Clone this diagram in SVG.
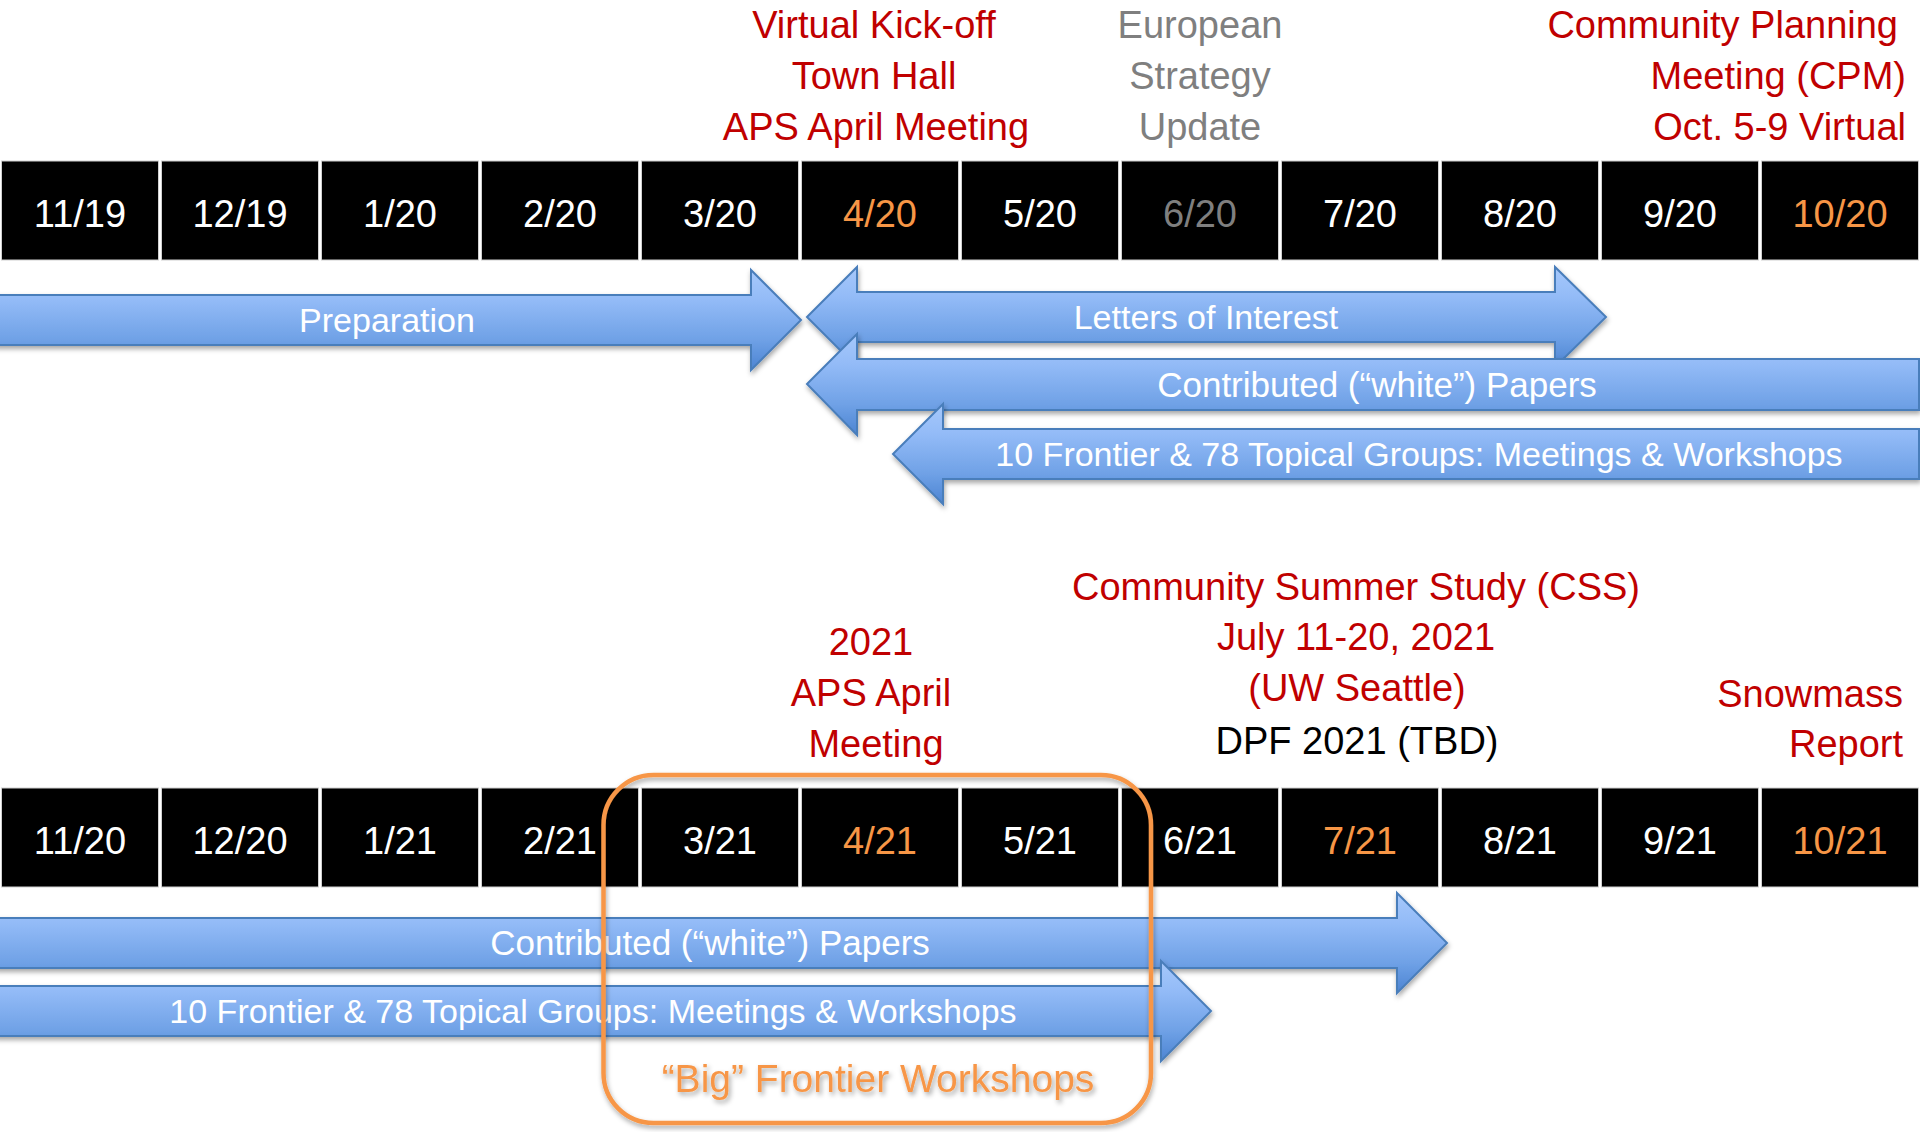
<svg xmlns="http://www.w3.org/2000/svg" width="1920" height="1132" viewBox="0 0 1920 1132">
<defs>
<linearGradient id="bg" x1="0" y1="0" x2="0" y2="1">
<stop offset="0" stop-color="#A6C8FB"/>
<stop offset="0.3" stop-color="#93BBF7"/>
<stop offset="0.7" stop-color="#6FA1E6"/>
<stop offset="1" stop-color="#4C84D2"/>
</linearGradient>
<filter id="sh" x="-5%" y="-20%" width="110%" height="150%">
<feDropShadow dx="1" dy="3" stdDeviation="2.5" flood-color="#000" flood-opacity="0.35"/>
</filter>
<filter id="tsh" x="-10%" y="-30%" width="120%" height="170%">
<feDropShadow dx="2" dy="3" stdDeviation="2.5" flood-color="#000" flood-opacity="0.35"/>
</filter>
</defs>
<style>
text{font-family:"Liberation Sans",Arial,sans-serif;}
.cell rect{fill:#000;stroke:#cfcfcf;stroke-width:1;}
.cell text{font-size:38px;fill:#fff;text-anchor:middle;}
.cell text.o{fill:#F79646;}
.cell text.g{fill:#7F7F7F;}
.hd{font-size:38px;fill:#C00000;text-anchor:middle;}
.gr{fill:#7F7F7F;}
.bk{fill:#000;}
.end{text-anchor:end;}
.arr path{fill:url(#bg);stroke:#4A7EBB;stroke-width:2;stroke-linejoin:miter;filter:url(#sh);}
.arr text{font-size:34px;fill:#fff;text-anchor:middle;}
.arr text.w{font-size:35px;}
</style>
<rect width="1920" height="1132" fill="#fff"/>

<!-- Top header labels -->
<g id="label-kickoff">
<text class="hd" x="874" y="38">Virtual Kick-off</text>
<text class="hd" x="874" y="89">Town Hall</text>
<text class="hd" x="876" y="140">APS April Meeting</text>
</g>
<g id="label-european">
<text class="hd gr" x="1200" y="38">European</text>
<text class="hd gr" x="1200" y="89">Strategy</text>
<text class="hd gr" x="1200" y="140">Update</text>
</g>
<g id="label-cpm">
<text class="hd end" x="1898" y="38">Community Planning</text>
<text class="hd end" x="1906" y="89">Meeting (CPM)</text>
<text class="hd end" x="1906" y="140">Oct. 5-9 Virtual</text>
</g>

<!-- Top timeline row -->
<g id="row-2020">
<g id="c-11-19" class="cell"><rect x="1.5" y="161" width="157" height="99"/><text x="80" y="227">11/19</text></g>
<g id="c-12-19" class="cell"><rect x="161.5" y="161" width="157" height="99"/><text x="240" y="227">12/19</text></g>
<g id="c-1-20" class="cell"><rect x="321.5" y="161" width="157" height="99"/><text x="400" y="227">1/20</text></g>
<g id="c-2-20" class="cell"><rect x="481.5" y="161" width="157" height="99"/><text x="560" y="227">2/20</text></g>
<g id="c-3-20" class="cell"><rect x="641.5" y="161" width="157" height="99"/><text x="720" y="227">3/20</text></g>
<g id="c-4-20" class="cell"><rect x="801.5" y="161" width="157" height="99"/><text class="o" x="880" y="227">4/20</text></g>
<g id="c-5-20" class="cell"><rect x="961.5" y="161" width="157" height="99"/><text x="1040" y="227">5/20</text></g>
<g id="c-6-20" class="cell"><rect x="1121.5" y="161" width="157" height="99"/><text class="g" x="1200" y="227">6/20</text></g>
<g id="c-7-20" class="cell"><rect x="1281.5" y="161" width="157" height="99"/><text x="1360" y="227">7/20</text></g>
<g id="c-8-20" class="cell"><rect x="1441.5" y="161" width="157" height="99"/><text x="1520" y="227">8/20</text></g>
<g id="c-9-20" class="cell"><rect x="1601.5" y="161" width="157" height="99"/><text x="1680" y="227">9/20</text></g>
<g id="c-10-20" class="cell"><rect x="1761.5" y="161" width="157" height="99"/><text class="o" x="1840" y="227">10/20</text></g>
</g>

<!-- Top arrows -->
<g id="top-arrows" class="arr">
<g id="a-preparation">
<path d="M -5,295 L 751,295 L 751,270 L 801,320 L 751,370 L 751,345 L -5,345 Z"/>
<text x="387" y="332">Preparation</text>
</g>
<g id="a-letters">
<path d="M 807,317 L 857,267 L 857,292 L 1555,292 L 1555,267 L 1606,317 L 1555,367 L 1555,342 L 857,342 L 857,367 Z"/>
<text x="1206" y="329">Letters of Interest</text>
</g>
<g id="a-contributed-1">
<path d="M 807,384 L 857,334 L 857,359 L 1919,359 L 1919,410 L 857,410 L 857,435 Z"/>
<text class="w" x="1377" y="397">Contributed (“white”) Papers</text>
</g>
<g id="a-frontier-1">
<path d="M 893,454 L 943,404 L 943,429 L 1919,429 L 1919,479 L 943,479 L 943,504 Z"/>
<text x="1419" y="466">10 Frontier &amp; 78 Topical Groups: Meetings &amp; Workshops</text>
</g>
</g>

<!-- Bottom header labels -->
<g id="label-aps2021">
<text class="hd" x="871" y="655">2021</text>
<text class="hd" x="871" y="706">APS April</text>
<text class="hd" x="876" y="757">Meeting</text>
</g>
<g id="label-css">
<text class="hd" x="1356" y="600">Community Summer Study (CSS)</text>
<text class="hd" x="1356" y="650">July 11-20, 2021</text>
<text class="hd" x="1357" y="701">(UW Seattle)</text>
<text class="hd bk" x="1357" y="754">DPF 2021 (TBD)</text>
</g>
<g id="label-report">
<text class="hd end" x="1903" y="707">Snowmass</text>
<text class="hd end" x="1903" y="757">Report</text>
</g>

<!-- Bottom timeline row -->
<g id="row-2021">
<g id="c-11-20" class="cell"><rect x="1.5" y="788" width="157" height="99"/><text x="80" y="854">11/20</text></g>
<g id="c-12-20" class="cell"><rect x="161.5" y="788" width="157" height="99"/><text x="240" y="854">12/20</text></g>
<g id="c-1-21" class="cell"><rect x="321.5" y="788" width="157" height="99"/><text x="400" y="854">1/21</text></g>
<g id="c-2-21" class="cell"><rect x="481.5" y="788" width="157" height="99"/><text x="560" y="854">2/21</text></g>
<g id="c-3-21" class="cell"><rect x="641.5" y="788" width="157" height="99"/><text x="720" y="854">3/21</text></g>
<g id="c-4-21" class="cell"><rect x="801.5" y="788" width="157" height="99"/><text class="o" x="880" y="854">4/21</text></g>
<g id="c-5-21" class="cell"><rect x="961.5" y="788" width="157" height="99"/><text x="1040" y="854">5/21</text></g>
<g id="c-6-21" class="cell"><rect x="1121.5" y="788" width="157" height="99"/><text x="1200" y="854">6/21</text></g>
<g id="c-7-21" class="cell"><rect x="1281.5" y="788" width="157" height="99"/><text class="o" x="1360" y="854">7/21</text></g>
<g id="c-8-21" class="cell"><rect x="1441.5" y="788" width="157" height="99"/><text x="1520" y="854">8/21</text></g>
<g id="c-9-21" class="cell"><rect x="1601.5" y="788" width="157" height="99"/><text x="1680" y="854">9/21</text></g>
<g id="c-10-21" class="cell"><rect x="1761.5" y="788" width="157" height="99"/><text class="o" x="1840" y="854">10/21</text></g>
</g>

<!-- Bottom arrows -->
<g id="bottom-arrows" class="arr">
<g id="a-contributed-2">
<path d="M -5,918 L 1397,918 L 1397,893 L 1447,943 L 1397,993 L 1397,968 L -5,968 Z"/>
<text class="w" x="710" y="955">Contributed (“white”) Papers</text>
</g>
<g id="a-frontier-2">
<path d="M -5,986 L 1161,986 L 1161,961 L 1211,1011 L 1161,1061 L 1161,1036 L -5,1036 Z"/>
<text x="593" y="1023">10 Frontier &amp; 78 Topical Groups: Meetings &amp; Workshops</text>
</g>
</g>

<!-- Big Frontier Workshops highlight -->
<g id="big-workshops">
<rect x="603.5" y="775" width="547.5" height="348" rx="50" ry="50" fill="none" stroke="#F79646" stroke-width="4.5" filter="url(#sh)"/>
<text x="878" y="1092" font-size="39" fill="#F79646" text-anchor="middle" filter="url(#tsh)">“Big” Frontier Workshops</text>
</g>
</svg>
